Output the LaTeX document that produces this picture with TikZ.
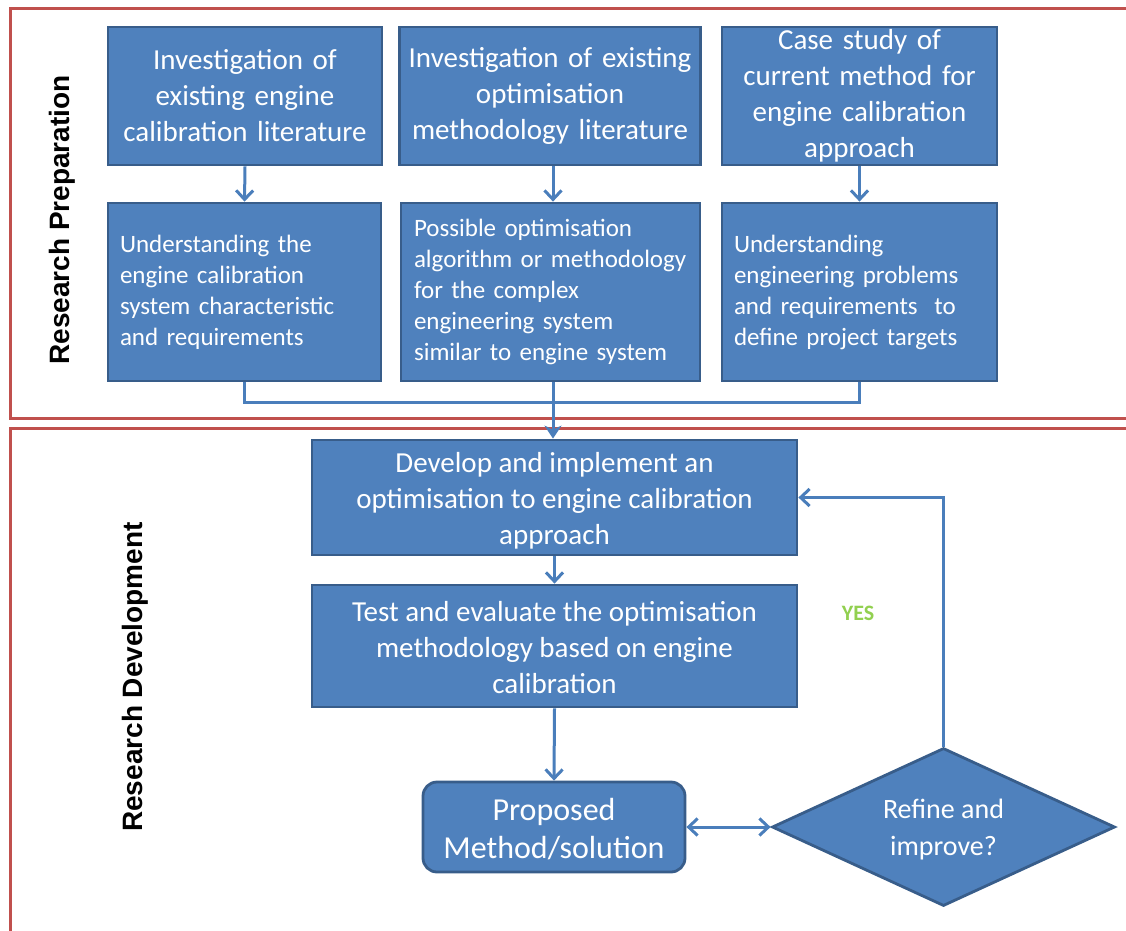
\documentclass[tikz,border=0pt]{standalone}
\usepackage{fontspec}
\setmainfont{Carlito}
\newfontfamily\headfont{Liberation Sans}
\usetikzlibrary{shapes.geometric,arrows.meta}
\definecolor{boxfill}{HTML}{4F81BD}
\definecolor{boxline}{HTML}{385D8A}
\definecolor{linkblue}{HTML}{4A7EBB}
\definecolor{framered}{HTML}{C0504D}
\definecolor{yesgreen}{HTML}{92D050}
\tikzset{
  box/.style={draw=boxline, fill=boxfill, line width=2.8pt, text=white,
    inner sep=0pt, align=center},
  boxtext/.style={text=white, align=center, inner sep=0pt},
  bigtext/.style={font=\fontsize{29}{36}\selectfont},
  smalltext/.style={font=\fontsize{25}{31}\selectfont, align=left},
  link/.style={draw=linkblue, line width=3pt},
  barb/.style={-{Straight Barb[length=9pt,width=17pt,line width=3pt]}},
  arr/.style={link, barb},
  frame/.style={draw=framered, line width=3pt},
  side/.style={font=\headfont\bfseries\fontsize{28}{32}\selectfont, rotate=90}
}
\begin{document}
\begin{tikzpicture}[x=1pt,y=-1pt]
\useasboundingbox (0,0) rectangle (1126,930);
\clip (0,0) rectangle (1126,930);

% section frames
\draw[frame] (10,8) rectangle (1150,418);
\draw[frame] (10,428) rectangle (1150,960);

% section titles
\node[side] (t1) at (62,220) {Research Preparation};
\node[side] (t2) at (135,677) {Research Development};

% preparation: literature and case study
\node[box,bigtext,minimum width=274pt,minimum height=138pt,text width=264pt] (A1) at (245,96)
  {Investigation of\\existing engine\\calibration literature};
\node[box,bigtext,minimum width=301pt,minimum height=138pt,text width=291pt] (A2) at (550,96)
  {Investigation of existing\\optimisation\\methodology literature};
\node[box,bigtext,minimum width=275pt,minimum height=138pt,text width=265pt] (A3) at (859.5,96)
  {Case study of\\current method for\\engine calibration\\approach};

% preparation: outcomes
\node[box,smalltext,minimum width=273pt,minimum height=178pt,text width=249pt] (B1) at (244.5,292)
  {Understanding the\\engine calibration\\system characteristic\\and requirements};
\node[box,smalltext,minimum width=299pt,minimum height=178pt,text width=273pt] (B2) at (550.5,292)
  {Possible optimisation\\algorithm or methodology\\for the complex\\engineering system\\similar to engine system};
\node[box,smalltext,minimum width=275pt,minimum height=178pt,text width=251pt] (B3) at (859.5,292)
  {Understanding\\engineering problems\\and requirements \ to\\define project targets};

% development: boxes
\node[box,minimum width=485pt,minimum height=115pt] (C1) at (554.5,497.5) {};
\node[box,minimum width=485pt,minimum height=122pt] (C2) at (554.5,646) {};
\node[box,rounded corners=14pt,minimum width=262pt,minimum height=90pt] (D) at (554,827) {};
\node[box,diamond,minimum width=343pt,minimum height=158pt,aspect=2.17] (Q) at (943.5,827) {};

% development: texts
\node[boxtext,bigtext] (C1t) at ([yshift=-3pt]C1.center)
  {Develop and implement an\\optimisation to engine calibration\\approach};
\node[boxtext,bigtext] (C2t) at ([yshift=-2pt]C2.center)
  {Test and evaluate the optimisation\\methodology based on engine\\calibration};
\node[boxtext,font=\fontsize{32}{38}\selectfont] (Dt) at ([yshift=-2pt]D.center)
  {Proposed\\Method/solution};
\node[boxtext,font=\fontsize{28}{37}\selectfont] (Qt) at ([yshift=-3pt]Q.center)
  {Refine and\\improve?};
\node[text=yesgreen,font=\bfseries\fontsize{22}{24}\selectfont] (yes) at (858,613.5) {YES};

% connectors
\coordinate (j) at (553,402);
\draw[arr] (A1.south) -- (B1.north);
\draw[arr] (A2.south -| j) -- (B2.north -| j);
\draw[arr] (A3.south) -- (B3.north);
\draw[link] (B1.south) |- (j) -| (B3.south);
\draw[link, -{Stealth[length=13pt,width=17pt,inset=4pt]}] (B2.south -| j) -- (C1.north -| j);
\draw[arr] (C1.south) -- (C2.north);
\draw[arr] (C2.south) -- (D.north);
\draw[link, {Straight Barb[length=9pt,width=17pt,line width=3pt]}-{Straight Barb[length=9pt,width=17pt,line width=3pt]}] (D.east) -- (Q.west);
\draw[arr] (Q.north) |- (C1.east);
\end{tikzpicture}
\end{document}
